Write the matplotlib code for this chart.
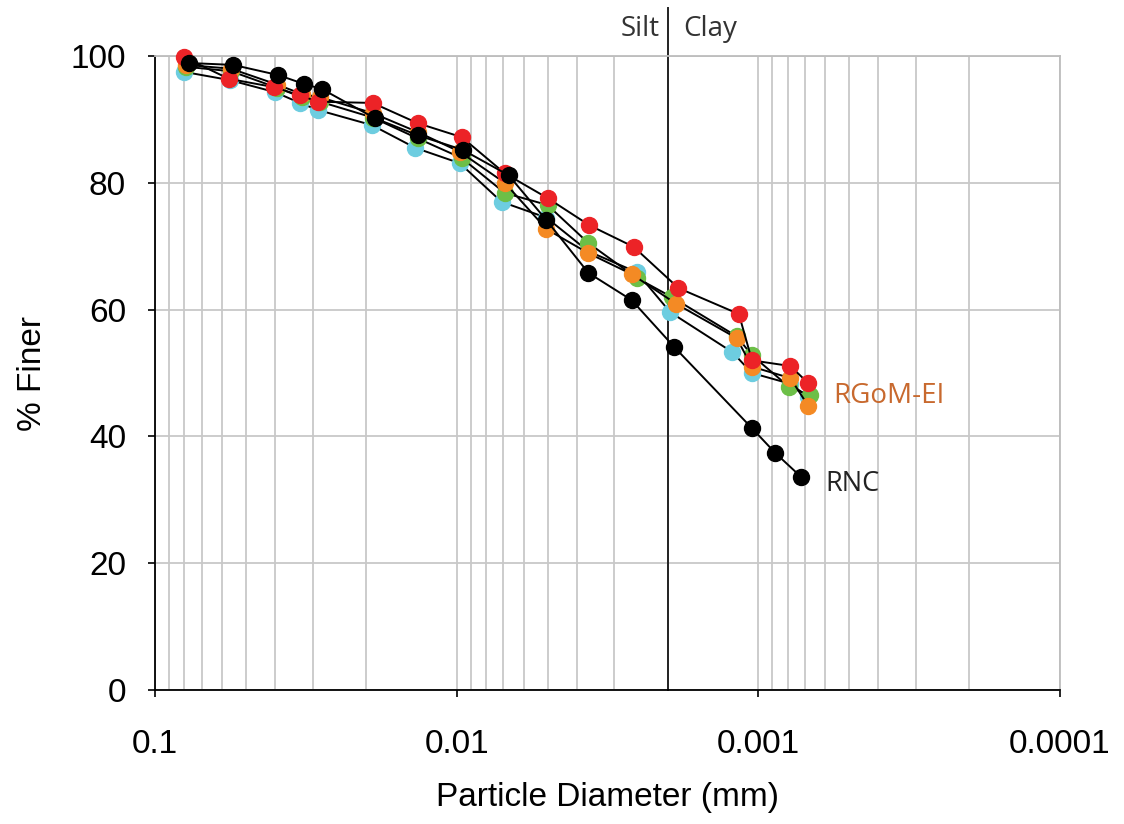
import matplotlib
matplotlib.use("Agg")
import matplotlib.pyplot as plt
from matplotlib.ticker import FixedLocator, LogLocator, NullFormatter

plt.rcParams['font.family'] = ['Liberation Sans', 'DejaVu Sans']

# particle diameters (mm) and % finer for each sample
cyanD = [0.0802, 0.0565, 0.0400, 0.0331, 0.0289, 0.0191, 0.0137, 0.00977, 0.00710,
         0.00504, 0.00366, 0.00253, 0.00196, 0.00122, 0.00105, 0.000783, 0.000683]
cyanY = [97.5, 96.2, 94.3, 92.6, 91.5, 89.1, 85.5, 83.1, 77.0,
         74.5, 69.2, 65.9, 59.6, 53.3, 50.0, 48.3, 46.2]

greenD = [0.0789, 0.0560, 0.0394, 0.0326, 0.0284, 0.0190, 0.01346, 0.00962, 0.00693,
          0.00500, 0.00366, 0.00253, 0.00194, 0.00118, 0.00105, 0.000790, 0.000675]
greenY = [98.3, 97.6, 95.0, 93.5, 92.8, 90.3, 87.0, 83.9, 78.4,
          76.5, 70.5, 65.0, 62.0, 55.8, 52.8, 47.8, 46.5]

orangeD = [0.0789, 0.0560, 0.0394, 0.0326, 0.0284, 0.0190, 0.01346, 0.00977, 0.00693,
           0.00504, 0.00366, 0.00263, 0.00187, 0.00118, 0.00105, 0.000783, 0.000683]
orangeY = [98.6, 98.0, 95.5, 94.0, 93.5, 91.0, 88.0, 84.9, 80.0,
           72.7, 68.9, 65.6, 60.9, 55.5, 51.0, 49.2, 44.8]

redD = [0.0802, 0.0569, 0.0404, 0.0331, 0.0289, 0.0190, 0.01346, 0.00962, 0.00693,
        0.00500, 0.00363, 0.00259, 0.00184, 0.00116, 0.00105, 0.000783, 0.000683]
redY = [99.8, 96.4, 95.1, 93.8, 92.8, 92.6, 89.4, 87.2, 81.5,
        77.6, 73.3, 69.9, 63.4, 59.3, 52.0, 51.1, 48.4]

# RNC
blackD = [0.0772, 0.0551, 0.0391, 0.0321, 0.0280, 0.0187, 0.01346, 0.00955, 0.00673,
          0.00504, 0.00366, 0.00263, 0.00190, 0.00105, 0.000879, 0.000721]
blackY = [98.9, 98.6, 97.0, 95.6, 94.8, 90.2, 87.5, 85.2, 81.2,
          74.1, 65.8, 61.5, 54.1, 41.3, 37.4, 33.6]

xTicks = [0.1, 0.01, 0.001, 0.0001]
xTickLabels = ["0.1", "0.01", "0.001", "0.0001"]
yTicks = [0, 20, 40, 60, 80, 100]
siltClay = 0.002

fig = plt.figure(figsize=(11.24, 8.24), dpi=100)
ax = fig.add_axes([0.138, 0.1626, 0.805, 0.7694])

series = [(cyanD, cyanY, "#6dcde0"),
          (greenD, greenY, "#6cbf47"),
          (orangeD, orangeY, "#f48a24"),
          (redD, redY, "#ec2327"),
          (blackD, blackY, "#000000")]
for i, (d, y, c) in enumerate(series):
    ax.plot(d, y, color="black", lw=1.4, marker="o", ms=11.5,
            mfc=c, mec=c, zorder=3 + i, clip_on=False)

ax.set_xscale("log")
ax.set_xlim(0.1, 0.0001)
ax.set_ylim(0, 100)

ax.xaxis.set_major_locator(FixedLocator(xTicks))
ax.set_xticklabels(xTickLabels)
ax.xaxis.set_minor_locator(LogLocator(base=10, subs=range(2, 10)))
ax.xaxis.set_minor_formatter(NullFormatter())
ax.set_yticks(yTicks)

ax.grid(True, which="major", color="#c8c8c8", lw=1.3)
ax.grid(True, which="minor", axis="x", color="#c8c8c8", lw=1.3)
ax.set_axisbelow(True)

for s in ["top", "right"]:
    ax.spines[s].set_color("#bdbdbd")
    ax.spines[s].set_linewidth(1.3)
for s in ["left", "bottom"]:
    ax.spines[s].set_color("black")
    ax.spines[s].set_linewidth(1.3)

ax.tick_params(axis="both", which="major", labelsize=24, length=5, width=1.2)
ax.tick_params(axis="x", which="minor", length=0)
ax.tick_params(axis="x", pad=23)
ax.tick_params(axis="y", pad=16)

ax.set_xlabel("Particle Diameter (mm)", fontsize=24, labelpad=16)
ax.set_ylabel("% Finer", fontsize=24, labelpad=16)

# silt / clay boundary
ax.plot([siltClay, siltClay], [0, 1.075], color="#222222", lw=1.4,
        transform=ax.get_xaxis_transform(), clip_on=False, zorder=2)
ax.text(0.00212, 1.042, "Silt", transform=ax.get_xaxis_transform(),
        ha="right", va="center", fontsize=20, color="#333333", family="Open Sans")
ax.text(0.00178, 1.042, "Clay", transform=ax.get_xaxis_transform(),
        ha="left", va="center", fontsize=20, color="#333333", family="Open Sans")

ax.text(0.000565, 46.3, "RGoM-EI", fontsize=20, color="#c8692e",
        ha="left", va="center", family="Open Sans")
ax.text(0.000600, 32.5, "RNC", fontsize=19.5, color="#222222",
        ha="left", va="center", family="Open Sans")

plt.savefig("out.png", dpi=100)
